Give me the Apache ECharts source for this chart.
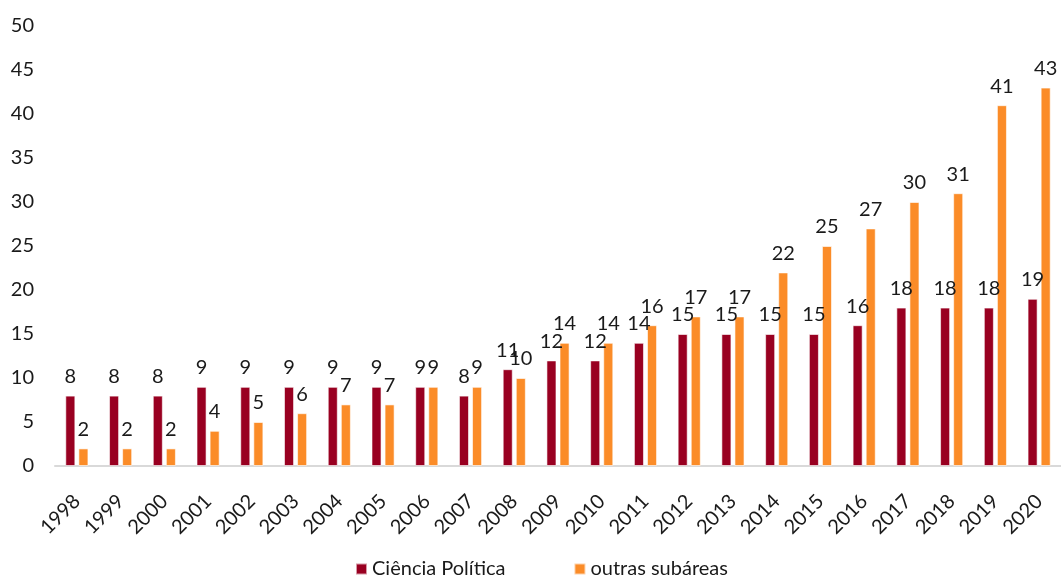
<!DOCTYPE html>
<html>
<head>
<meta charset="utf-8">
<script src="https://cdn.jsdelivr.net/npm/echarts@6/dist/echarts.min.js"></script>
<style>
  html, body { margin: 0; padding: 0; background: #fff; }
  #chart { width: 1061px; height: 579px; }
</style>
</head>
<body>
<div id="chart"></div>
<script>
// anos
const years = ['1998', '1999', '2000', '2001', '2002', '2003', '2004', '2005', '2006', '2007', '2008',
  '2009', '2010', '2011', '2012', '2013', '2014', '2015', '2016', '2017', '2018', '2019', '2020']
const cienciaPolitica = [8, 8, 8, 9, 9, 9, 9, 9, 9, 8, 11, 12, 12, 14, 15, 15, 15, 15, 16, 18, 18, 18, 19]
const outrasSubareas = [2, 2, 2, 4, 5, 6, 7, 7, 9, 9, 10, 14, 14, 16, 17, 17, 22, 25, 27, 30, 31, 41, 43]

const font = 'Lato, "Noto Sans", sans-serif'
const myChart = echarts.init(document.getElementById('chart'))

const label = {
  show: true,
  position: 'top',
  distance: 9,
  color: '#1a1a1a',
  fontSize: 20,
  fontFamily: font
}

myChart.setOption({
  animation: false,
  color: ['#990021', '#FB8C28'],
  grid: { left: 55, right: 0, top: 26, bottom: 113 },
  legend: {
    bottom: -5,
    left: 350,
    itemWidth: 11,
    itemHeight: 11,
    itemGap: 68,
    icon: 'rect',
    textStyle: { fontSize: 20, color: '#1a1a1a', fontFamily: font }
  },
  xAxis: {
    type: 'category',
    data: years,
    axisLine: { lineStyle: { color: '#d9d9d9', width: 2 } },
    axisTick: { show: false },
    axisLabel: {
      rotate: 45,
      interval: 0,
      margin: 32,
      color: '#1a1a1a',
      fontSize: 20,
      fontFamily: font
    }
  },
  yAxis: {
    type: 'value',
    min: 0,
    max: 50,
    interval: 5,
    splitLine: { show: false },
    axisLine: { show: false },
    axisTick: { show: false },
    axisLabel: { color: '#1a1a1a', fontSize: 20, margin: 21, fontFamily: font }
  },
  series: [{
    name: 'Ciência Política',
    type: 'bar',
    barWidth: '23%',
    barGap: '30%',
    itemStyle: { borderColor: 'rgba(255,255,255,0.6)', borderWidth: 1 },
    label: label,
    data: cienciaPolitica
  }, {
    name: 'outras subáreas',
    type: 'bar',
    barWidth: '23%',
    itemStyle: { borderColor: 'rgba(255,255,255,0.6)', borderWidth: 1 },
    label: label,
    data: outrasSubareas
  }]
})
</script>
</body>
</html>
